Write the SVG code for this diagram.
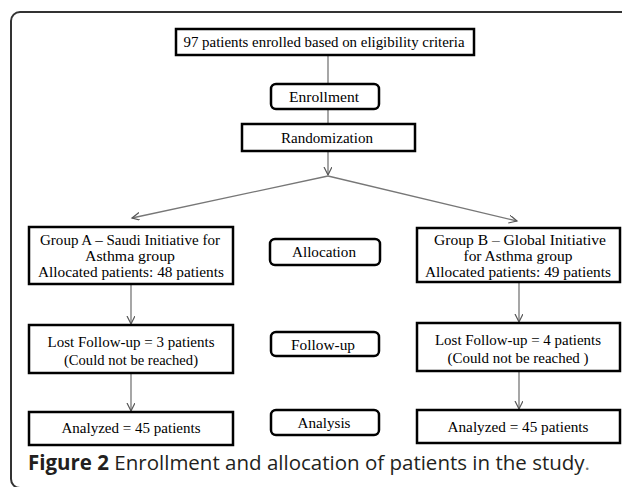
<svg xmlns="http://www.w3.org/2000/svg" width="622" height="487" viewBox="0 0 622 487">
<style>
.frame{fill:none;stroke:#333;stroke-width:2}
.box{fill:#fff;stroke:#000;stroke-width:2.5}
.t{font-family:"Liberation Serif","Times New Roman",serif;font-size:15px;fill:#000;text-anchor:middle}
.c{stroke:#777;stroke-width:1.3;fill:none}
.cap{font-family:"Open Sans","Noto Sans",sans-serif;font-size:20.5px;fill:#231f20}
</style>
<defs>
<marker id="ah" markerUnits="userSpaceOnUse" markerWidth="10" markerHeight="10" refX="8" refY="4" orient="auto">
<path d="M0,0 L8,4 L0,8" fill="none" stroke="#555" stroke-width="1.2"/>
</marker>
</defs>
<rect class="frame" x="11" y="12" width="640" height="476" rx="9"/>
<g id="connectors">
<line class="c" x1="328" y1="55" x2="328" y2="84"/>
<line class="c" x1="328" y1="109" x2="328" y2="124"/>
<line class="c" x1="328" y1="151" x2="328" y2="175" marker-end="url(#ah)"/>
<line class="c" x1="328" y1="176" x2="132" y2="218" marker-end="url(#ah)"/>
<line class="c" x1="328" y1="176" x2="517" y2="221" marker-end="url(#ah)"/>
<line class="c" x1="131" y1="284" x2="131" y2="324" marker-end="url(#ah)"/>
<line class="c" x1="131" y1="373" x2="131" y2="411" marker-end="url(#ah)"/>
<line class="c" x1="519" y1="282" x2="519" y2="322" marker-end="url(#ah)"/>
<line class="c" x1="519" y1="371" x2="519" y2="409" marker-end="url(#ah)"/>
</g>
<g id="n-enrolled">
<rect class="box" x="176" y="29" width="298" height="26"/>
<text class="t" x="324" y="47" textLength="281" lengthAdjust="spacingAndGlyphs">97 patients enrolled based on eligibility criteria</text>
</g>
<g id="n-enrollment">
<rect class="box" x="271" y="84" width="108" height="25" rx="5"/>
<text class="t" x="324" y="102" textLength="70" lengthAdjust="spacingAndGlyphs">Enrollment</text>
</g>
<g id="n-randomization">
<rect class="box" x="242" y="124" width="173" height="27"/>
<text class="t" x="327" y="143" textLength="92" lengthAdjust="spacingAndGlyphs">Randomization</text>
</g>
<g id="n-groupA">
<rect class="box" x="29" y="227" width="204" height="57"/>
<text class="t" x="130" y="245" textLength="180" lengthAdjust="spacingAndGlyphs">Group A – Saudi  Initiative for</text>
<text class="t" x="130" y="261" textLength="90" lengthAdjust="spacingAndGlyphs">Asthma  group</text>
<text class="t" x="131" y="277" textLength="186" lengthAdjust="spacingAndGlyphs">Allocated patients:  48 patients</text>
</g>
<g id="n-allocation">
<rect class="box" x="270" y="239" width="110" height="26" rx="5"/>
<text class="t" x="324" y="257" textLength="64" lengthAdjust="spacingAndGlyphs">Allocation</text>
</g>
<g id="n-groupB">
<rect class="box" x="417" y="228" width="203" height="54"/>
<text class="t" x="520" y="245" textLength="172" lengthAdjust="spacingAndGlyphs">Group B – Global  Initiative</text>
<text class="t" x="518" y="261" textLength="109" lengthAdjust="spacingAndGlyphs">for Asthma  group</text>
<text class="t" x="518" y="277" textLength="186" lengthAdjust="spacingAndGlyphs">Allocated patients:  49 patients</text>
</g>
<g id="n-lostA">
<rect class="box" x="29" y="325" width="204" height="48"/>
<text class="t" x="131" y="347" textLength="167" lengthAdjust="spacingAndGlyphs">Lost Follow-up = 3 patients</text>
<text class="t" x="131" y="365" textLength="134" lengthAdjust="spacingAndGlyphs">(Could not be reached)</text>
</g>
<g id="n-followup">
<rect class="box" x="271" y="332" width="108" height="24" rx="5"/>
<text class="t" x="323" y="350" textLength="64" lengthAdjust="spacingAndGlyphs">Follow-up</text>
</g>
<g id="n-lostB">
<rect class="box" x="417" y="323" width="203" height="48"/>
<text class="t" x="518" y="345" textLength="166" lengthAdjust="spacingAndGlyphs">Lost Follow-up = 4 patients</text>
<text class="t" x="518" y="363" textLength="141" lengthAdjust="spacingAndGlyphs">(Could not be reached )</text>
</g>
<g id="n-analyzedA">
<rect class="box" x="29" y="412" width="204" height="33"/>
<text class="t" x="131" y="433" textLength="139" lengthAdjust="spacingAndGlyphs">Analyzed = 45 patients</text>
</g>
<g id="n-analysis">
<rect class="box" x="271" y="410" width="108" height="25" rx="5"/>
<text class="t" x="324" y="428" textLength="53" lengthAdjust="spacingAndGlyphs">Analysis</text>
</g>
<g id="n-analyzedB">
<rect class="box" x="417" y="410" width="203" height="33"/>
<text class="t" x="518" y="432" textLength="141" lengthAdjust="spacingAndGlyphs">Analyzed = 45 patients</text>
</g>
<text class="cap" x="28" y="470"><tspan font-weight="bold">Figure 2</tspan> Enrollment and allocation of patients in the study<tspan fill="#777">.</tspan></text>
</svg>
